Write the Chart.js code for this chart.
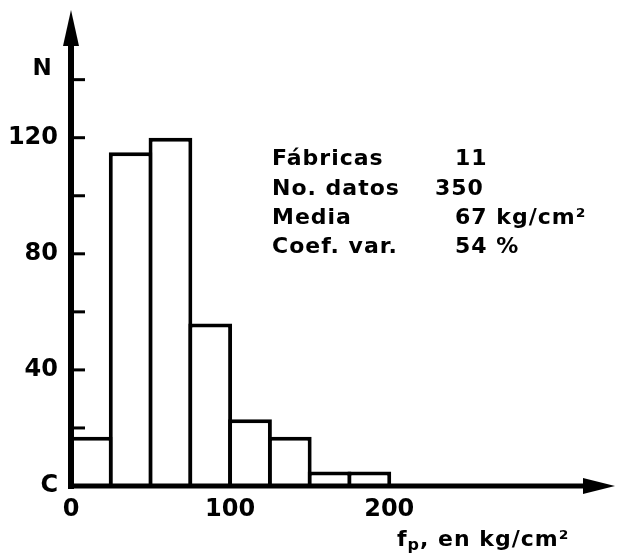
<!DOCTYPE html>
<html><head><meta charset="utf-8">
<script src="https://cdn.jsdelivr.net/npm/chart.js@4"></script>
<style>html,body{margin:0;padding:0;background:#fff;overflow:hidden}</style>
</head><body>
<canvas id="c" width="617" height="559" style="width:617px;height:559px;display:block"></canvas>
<script>
// ---- data ----
const binEdges = [0, 25, 50, 75, 100, 125, 150, 175, 200];
const counts = [17, 115, 120, 56, 23, 17, 5, 5];
const xTicks = [0, 100, 200];
const xTickLabels = ['0', '100', '200'];
const yTicks = [0, 40, 80, 120];
const yTickLabels = ['C', '40', '80', '120'];
const yTickMarks = [20, 40, 60, 80, 100, 120, 140];
const statLabels = ['Fábricas', 'No. datos', 'Media', 'Coef. var.'];
const statValues = ['11', '350', '67 kg/cm²', '54 %'];
const yAxisTitle = 'N';
const xAxisTitleMain = 'f';
const xAxisTitleSub = 'p';
const xAxisTitleRest = ', en kg/cm²';
const xMax = 340, yMax = 164;

// ---- layout (not data) ----
const FONT = '"DejaVu Sans", "Liberation Sans", sans-serif';
const statLabelX = 272;
const statValueX = [455, 435, 455, 455];
const statBaseY = [165, 195, 224, 253];

const decor = {
  id: 'decor',
  afterDatasetsDraw(chart) {
    const { ctx, scales: { x, y } } = chart;
    const x0 = x.getPixelForValue(0), y0 = y.getPixelForValue(0);
    const xEnd = x.getPixelForValue(xMax) + 3, yEnd = y.getPixelForValue(yMax);
    ctx.save();
    ctx.fillStyle = '#000'; ctx.strokeStyle = '#000';
    // y axis with arrow
    ctx.lineWidth = 6;
    ctx.beginPath(); ctx.moveTo(x0, y0 + 3); ctx.lineTo(x0, yEnd + 30); ctx.stroke();
    ctx.beginPath(); ctx.moveTo(x0, yEnd); ctx.lineTo(x0 - 8, yEnd + 36); ctx.lineTo(x0 + 8, yEnd + 36); ctx.closePath(); ctx.fill();
    // x axis with arrow
    ctx.lineWidth = 5;
    ctx.beginPath(); ctx.moveTo(x0 - 3, y0); ctx.lineTo(xEnd - 28, y0); ctx.stroke();
    ctx.beginPath(); ctx.moveTo(xEnd, y0); ctx.lineTo(xEnd - 32, y0 - 8); ctx.lineTo(xEnd - 32, y0 + 8); ctx.closePath(); ctx.fill();
    // inward tick marks
    ctx.lineWidth = 3;
    yTickMarks.forEach(v => {
      const py = y.getPixelForValue(v);
      ctx.beginPath(); ctx.moveTo(x0, py); ctx.lineTo(x0 + 14, py); ctx.stroke();
    });
    // N label
    ctx.textBaseline = 'alphabetic';
    ctx.textAlign = 'center';
    ctx.font = 'bold 23px ' + FONT;
    ctx.fillText(yAxisTitle, 42, 75);
    // stats block
    ctx.textAlign = 'left';
    ctx.font = 'bold 22px ' + FONT;
    ctx.letterSpacing = '1px';
    statLabels.forEach((t, i) => ctx.fillText(t, statLabelX, statBaseY[i]));
    statValues.forEach((t, i) => ctx.fillText(t, statValueX[i], statBaseY[i]));
    // x axis title
    ctx.letterSpacing = '1px';
    let tx = 397; const ty = 546;
    ctx.font = 'bold 22px ' + FONT;
    ctx.fillText(xAxisTitleMain, tx, ty); tx += ctx.measureText(xAxisTitleMain).width;
    ctx.font = 'bold 16px ' + FONT;
    ctx.fillText(xAxisTitleSub, tx, ty + 4); tx += ctx.measureText(xAxisTitleSub).width;
    ctx.font = 'bold 22px ' + FONT;
    ctx.fillText(xAxisTitleRest, tx, ty);
    ctx.restore();
  }
};

new Chart(document.getElementById('c'), {
  type: 'bar',
  data: {
    datasets: [{
      data: counts.map((c, i) => ({ x: (binEdges[i] + binEdges[i + 1]) / 2, y: c })),
      backgroundColor: '#fff',
      borderColor: '#000',
      borderWidth: 4,
      borderSkipped: 'start',
      barPercentage: 1.1,
      categoryPercentage: 1
    }]
  },
  options: {
    responsive: false,
    devicePixelRatio: 1,
    animation: false,
    layout: { padding: { top: 10, right: 5, left: 0, bottom: 0 } },
    plugins: { legend: { display: false }, tooltip: { enabled: false } },
    scales: {
      x: {
        type: 'linear', min: 0, max: xMax, offset: false,
        grid: { display: false, drawTicks: false, offset: false }, border: { display: false },
        afterBuildTicks: s => { s.ticks = xTicks.map(v => ({ value: v })); },
        afterFit: s => { s.height = 73; s.paddingLeft = 0; s.paddingRight = 0; },
        ticks: {
          color: '#000', padding: 9, maxRotation: 0, autoSkip: false,
          font: { family: FONT, size: 24, weight: 'bold' },
          callback: v => xTickLabels[xTicks.indexOf(v)]
        }
      },
      y: {
        type: 'linear', min: 0, max: yMax,
        grid: { display: false, drawTicks: false }, border: { display: false },
        afterBuildTicks: s => { s.ticks = yTicks.map(v => ({ value: v })); },
        afterFit: s => { s.width = 71; s.paddingTop = 0; s.paddingBottom = 0; },
        ticks: {
          color: '#000', padding: 13, autoSkip: false,
          font: { family: FONT, size: 24, weight: 'bold' },
          callback: v => yTickLabels[yTicks.indexOf(v)]
        }
      }
    }
  },
  plugins: [decor]
});
</script>
</body></html>
